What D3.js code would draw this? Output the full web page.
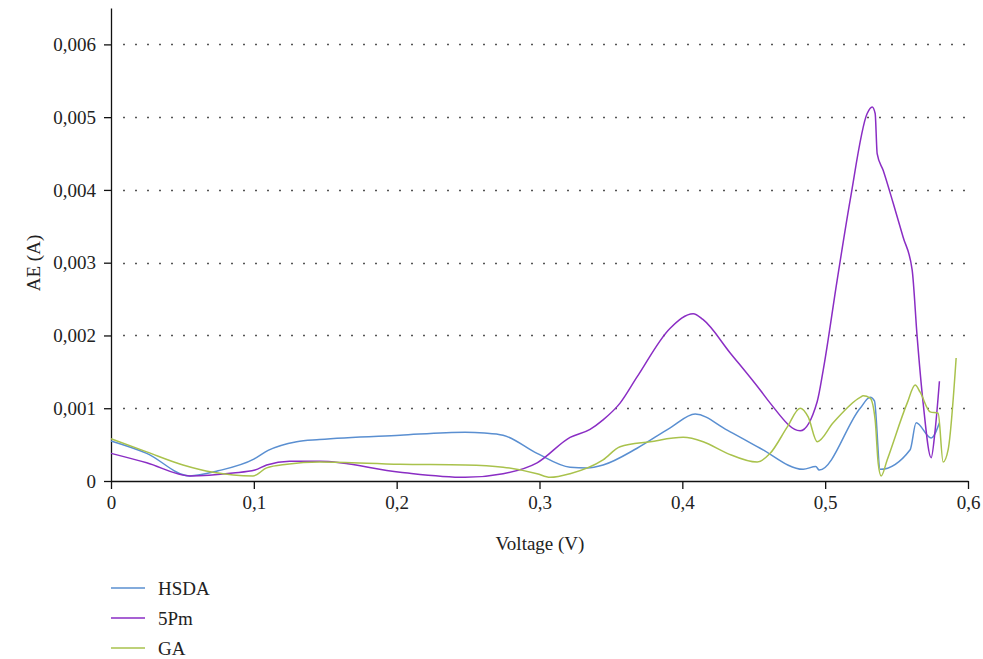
<!DOCTYPE html>
<html>
<head>
<meta charset="utf-8">
<script src="https://cdn.jsdelivr.net/npm/d3@7"></script>
<style>
  body { margin: 0; background: #fff; }
  svg text { font-family: "Liberation Serif", "DejaVu Serif", serif; fill: #222; }
</style>
</head>
<body>
<div id="chart"></div>
<script>
// series (voltage in V, AE in A)
const seriesNames = ['HSDA', '5Pm', 'GA'];
const seriesColors = ['#5a8fd1', '#8a2dc4', '#a9c24c'];

const hsda = [
  [0, 0.00055], [0.025, 0.00038], [0.055, 0.00007], [0.075, 0.00014], [0.1, 0.0003],
  [0.11, 0.00042], [0.13, 0.00054], [0.146, 0.00057], [0.2024, 0.00063], [0.2479, 0.00067],
  [0.2614, 0.00066], [0.2745, 0.00063], [0.2983, 0.00038], [0.3214, 0.00019], [0.3333, 0.00018],
  [0.3445, 0.00022], [0.3683, 0.00045], [0.3915, 0.00073], [0.409, 0.00092], [0.4314, 0.0007],
  [0.4545, 0.00045], [0.4846, 0.00016], [0.4934, 0.0002], [0.4958, 0.00015], [0.5245, 0.001],
  [0.5315, 0.00115], [0.5345, 0.0011], [0.5385, 0.00016], [0.5595, 0.00043], [0.5637, 0.0008],
  [0.5742, 0.00059], [0.58, 0.0008]
];

const pm5 = [
  [0, 0.00038], [0.025, 0.00025], [0.0553, 0.00007], [0.0854, 0.00011], [0.1008, 0.00015],
  [0.109, 0.00022], [0.125, 0.00027], [0.146, 0.00027], [0.2024, 0.00012], [0.2479, 0.00005],
  [0.2745, 0.0001], [0.2983, 0.00025], [0.3214, 0.0006], [0.3354, 0.00071], [0.3445, 0.00084],
  [0.3564, 0.00107], [0.3683, 0.00143], [0.3915, 0.0021], [0.4076, 0.0023], [0.4144, 0.00222],
  [0.4335, 0.00176], [0.4545, 0.00125], [0.4615, 0.00107], [0.4825, 0.00069], [0.4944, 0.00109],
  [0.4986, 0.00152], [0.5084, 0.00276], [0.5175, 0.00386], [0.5294, 0.00505], [0.5329, 0.00514],
  [0.535, 0.00505], [0.5364, 0.0045], [0.5406, 0.00427], [0.5476, 0.00382], [0.5546, 0.00335],
  [0.5609, 0.0029], [0.5644, 0.00198], [0.5686, 0.00107], [0.5742, 0.00032], [0.577, 0.0007],
  [0.58, 0.00137]
];

const ga = [
  [0, 0.00058], [0.025, 0.0004], [0.0504, 0.00022], [0.0714, 0.00012], [0.0994, 0.00007],
  [0.109, 0.00018], [0.1232, 0.00023], [0.146, 0.00026], [0.2024, 0.00023], [0.2479, 0.00022],
  [0.2745, 0.00019], [0.2983, 0.0001], [0.3074, 0.00005], [0.3214, 0.0001], [0.3445, 0.00029],
  [0.3564, 0.00047], [0.3775, 0.00054], [0.4006, 0.0006], [0.4146, 0.00054], [0.4314, 0.00038],
  [0.4524, 0.00026], [0.4615, 0.00038], [0.4734, 0.00074], [0.4825, 0.001], [0.4881, 0.00088],
  [0.4944, 0.00054], [0.5056, 0.0008], [0.5245, 0.00115], [0.5266, 0.00117], [0.5315, 0.00114],
  [0.535, 0.00084], [0.5371, 0.00025], [0.5392, 0.00007], [0.5434, 0.00029], [0.5574, 0.00107],
  [0.563, 0.00132], [0.5665, 0.00122], [0.5735, 0.00095], [0.5791, 0.00093], [0.5826, 0.00026],
  [0.5861, 0.00043], [0.5917, 0.00169]
];

const xTicks = [0, 0.1, 0.2, 0.3, 0.4, 0.5, 0.6];
const yTicks = [0, 0.001, 0.002, 0.003, 0.004, 0.005, 0.006];

const serif = '"Liberation Serif", "DejaVu Serif", serif';
const width = 983, height = 659;
const svg = d3.select('#chart').append('svg')
  .attr('width', width)
  .attr('height', height)
  .attr('font-family', serif);

const x = d3.scaleLinear().domain([0, 0.6]).range([111, 968]);
const y = d3.scaleLinear().domain([0, 0.0065]).range([481, 8]);

const fmt = d => d3.format('')(+d.toFixed(3)).replace('.', ',');

// dotted grid
svg.append('g')
  .selectAll('line')
  .data(yTicks.filter(d => d > 0))
  .enter().append('line')
  .attr('x1', x(0) + 12)
  .attr('x2', x(0.6))
  .attr('y1', d => Math.round(y(d)) + 0.5)
  .attr('y2', d => Math.round(y(d)) + 0.5)
  .attr('stroke', '#555')
  .attr('stroke-width', 1.3)
  .attr('stroke-dasharray', '2,10');

// axes
const yAxis = svg.append('g')
  .attr('transform', 'translate(' + x(0) + ',0)')
  .call(d3.axisLeft(y).tickValues(yTicks).tickFormat(fmt).tickSize(7).tickSizeOuter(0));
const xAxis = svg.append('g')
  .attr('transform', 'translate(0,' + y(0) + ')')
  .call(d3.axisBottom(x).tickValues(xTicks).tickFormat(fmt).tickSize(8).tickSizeOuter(0));

[yAxis, xAxis].forEach(a => {
  a.attr('font-family', serif).attr('font-size', 19);
  a.selectAll('path, line').attr('stroke', '#111').attr('stroke-width', 1.3);
  a.selectAll('text').style('font-family', serif).style('font-size', '19px').attr('fill', '#222');
});
yAxis.selectAll('text').attr('x', -15);
xAxis.selectAll('text').attr('y', 15);

// axis titles
svg.append('text')
  .attr('transform', 'translate(40,263) rotate(-90)')
  .attr('text-anchor', 'middle')
  .style('font-size', '19px')
  .text('AE (A)');
svg.append('text')
  .attr('x', 540)
  .attr('y', 550)
  .attr('text-anchor', 'middle')
  .style('font-size', '19px')
  .text('Voltage (V)');

// lines
const line = d3.line()
  .x(d => x(d[0]))
  .y(d => y(d[1]))
  .curve(d3.curveMonotoneX);

const allSeries = [hsda, pm5, ga];
allSeries.forEach((s, i) => {
  svg.append('path')
    .datum(s)
    .attr('fill', 'none')
    .attr('stroke', seriesColors[i])
    .attr('stroke-width', 1.5)
    .attr('d', line);
});

// legend
const legend = svg.append('g').attr('transform', 'translate(111,588)');
seriesNames.forEach((name, i) => {
  const g = legend.append('g').attr('transform', 'translate(0,' + (i * 30) + ')');
  g.append('line')
    .attr('x1', 0).attr('x2', 34)
    .attr('stroke', seriesColors[i])
    .attr('stroke-width', 1.5);
  g.append('text')
    .attr('x', 47)
    .attr('y', 7)
    .style('font-size', '19px')
    .text(name);
});
</script>
</body>
</html>
